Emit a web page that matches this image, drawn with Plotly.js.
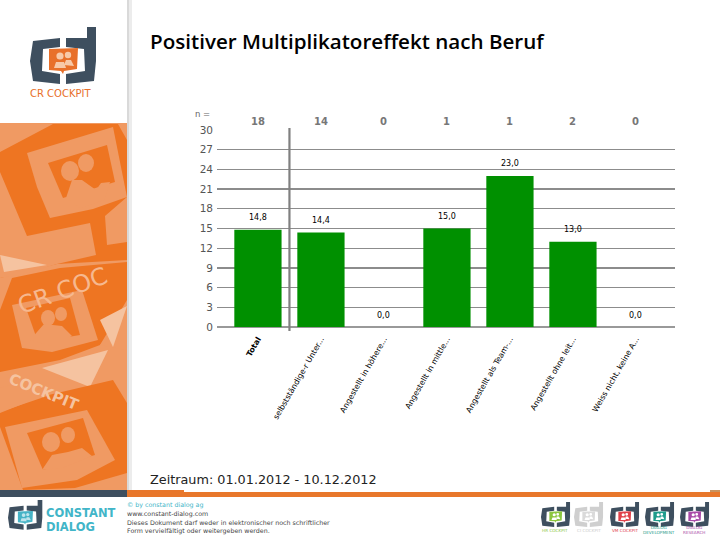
<!DOCTYPE html>
<html>
<head>
<meta charset="utf-8">
<script src="https://cdn.plot.ly/plotly-3.0.1.min.js"></script>
<style>html,body{margin:0;padding:0;background:#fff}#c{width:720px;height:540px}</style>
</head>
<body>
<div id="c"></div>
<script>
const categories = ["<b>Total</b>","selbstständige-r Unter...","Angestellt in höhere...","Angestellt in mittle...","Angestellt als Team-...","Angestellt ohne leit...","Weiss nicht, keine A..."];
const values = [14.8,14.4,0,15,23,13,0];
const valueLabels = ["14,8","14,4","0,0","15,0","23,0","13,0","0,0"];
const counts = [18,14,0,1,1,2,0];
const yTicks = [0,3,6,9,12,15,18,21,24,27,30];

const titleText = "Positiver Multiplikatoreffekt nach Beruf";
const periodText = "Zeitraum: 01.01.2012 - 10.12.2012";

const W = 720, H = 540, ML = 217, MR = 45, MT = 130, MB = 213;
const fx = x => (x - ML) / (W - ML - MR);
const fy = y => 1 - (y - MT) / (H - MT - MB);

const shapes = [];
function poly(pts, color, layer) {
  const d = pts.map((p, i) => (i ? "L" : "M") + fx(p[0]).toFixed(5) + "," + fy(p[1]).toFixed(5)).join(" ") + " Z";
  shapes.push({type:"path", xref:"paper", yref:"paper", path:d, fillcolor:color, line:{width:0}, layer:layer||"below"});
}
function rect(x0,y0,x1,y1,color,layer){ poly([[x0,y0],[x1,y0],[x1,y1],[x0,y1]],color,layer); }
function oval(cx,cy,rx,ry,color){
  shapes.push({type:"circle", xref:"paper", yref:"paper", x0:fx(cx-rx), x1:fx(cx+rx), y0:fy(cy+ry), y1:fy(cy-ry), fillcolor:color, line:{width:0}, layer:"below"});
}
function logo(x,y,s,frame,win,person){
  const P = a => a.map(p => [x+p[0]*s, y+p[1]*s]);
  poly(P([[3,14],[30,11],[30,20],[13,22],[12,44],[30,47],[30,57],[3,54],[0,34]]),frame);
  poly(P([[36,11],[57,11],[57,0],[66,0],[66,34],[64,54],[36,57],[36,47],[55,44],[54,22],[36,20]]),frame);
  poly(P([[19,22],[48,21],[47,42],[34,44],[33,47],[31,44],[19,43]]),win);
  oval(x+30*s,y+29*s,3.6*s,3.6*s,person);
  oval(x+38*s,y+28*s,3.2*s,3.2*s,person);
  poly(P([[24,41],[26,35],[34,35],[36,41]]),person);
  poly(P([[34,38],[36,33],[41,33],[44,39]]),person);
}

const L = "#F09A63", D = "#EE7522", PALE = "#F5C3A0", NAVY = "#3E4F5F";
rect(128,0,132,490,"#ECECEC");
rect(127,0,129,490,"#D9D9D9");
rect(0,123,127,490,L);
poly([[0,152],[53,124],[118,124],[127,140],[127,197],[105,216],[107,245],[127,242],[127,260],[57,264],[0,278]],D);
poly([[0,172],[27,236],[90,223],[96,255],[57,264],[20,275],[0,278]],L);
poly([[27,153],[113,127],[127,197],[93,209],[50,218],[37,187]],L);
poly([[48,163],[107,145],[115,182],[63,198]],D);
oval(70,171,9,10,L); oval(86,163,8,9,L);
poly([[66,198],[72,180],[82,180],[96,190],[101,183],[110,182],[104,200],[80,208]],L);
poly([[0,255],[47,265],[4,272]],PALE);
poly([[0,310],[12,278],[60,268],[127,262],[127,300],[100,345],[60,360],[0,372]],D);
poly([[12,305],[82,290],[98,340],[52,352],[22,348]],L);
poly([[26,308],[70,298],[80,335],[38,342]],D);
oval(48,318,7,8,L); oval(61,314,6,7,L);
poly([[30,340],[44,324],[62,326],[72,336],[52,346]],L);
poly([[127,285],[127,350],[100,345],[127,310]],L);
poly([[100,320],[127,306],[113,347]],PALE);
poly([[42,368],[108,350],[90,387]],PALE);
poly([[0,413],[40,397],[113,380],[127,403],[127,473],[75,488],[23,490],[0,427]],D);
poly([[5,427],[87,410],[115,460],[77,480],[22,488]],L);
poly([[27,433],[83,418],[95,455],[43,470]],D);
oval(51,442,9,10,L); oval(68,435,7,8,L);
poly([[42,470],[52,455],[68,452],[82,448],[92,456],[62,468]],L);
poly([[0,388],[30,380],[50,395],[0,412]],L);

rect(0,490,127,497,NAVY);
rect(127,490,184,497,"#E8772B");
rect(184,492,720,497,"#E8772B");
rect(710,490,720,492,"#C9935F");

logo(30,27,1,NAVY,"#E8702A","#F7C9A8");
logo(8,500,0.52,NAVY,"#46B3C6","#BFE5EC");
const miniLogos = [[541,"#3E4F5F","#8CC63F"],[574,"#CFCFCF","#DADADA"],[610,"#3E4F5F","#E0414A"],[645,"#3E4F5F","#1F9C8C"],[680,"#3E4F5F","#A94AA8"]];
miniLogos.forEach(m => logo(m[0],502,0.44,m[1],m[2],"#FFFFFF"));

shapes.push({type:"line", xref:"x", yref:"paper", x0:0.5, x1:0.5, y0:fy(331), y1:fy(128), line:{color:"#808080",width:2.2}, layer:"above"});
shapes.push({type:"line", xref:"paper", yref:"y", x0:0, x1:1, y0:21, y1:21, line:{color:"#7A7A7A",width:2}, layer:"below"});

function note(x,y,text,size,color,extra){
  return Object.assign({xref:"paper",yref:"paper",x:fx(x),y:fy(y),text:text,showarrow:false,
    xanchor:"left",yanchor:"middle",font:{family:"DejaVu Sans",size:size,color:color}},extra||{});
}
const annotations = [];
annotations.push(note(148,41,titleText,20.6,"#000",{font:{family:"Open Sans",size:20.6,weight:600,color:"#000"}}));
annotations.push(note(148,479,periodText,12.8,"#222"));
annotations.push(note(193,114,"n =",8.5,"#666"));
counts.forEach((c,i)=>annotations.push({xref:"x",yref:"paper",x:i,y:fy(114),text:"<b>"+c+"</b>",showarrow:false,
  font:{family:"DejaVu Sans",size:10,color:"#777"}}));
valueLabels.forEach((t,i)=>annotations.push({xref:"x",yref:"y",x:i,y:values[i],text:t,showarrow:false,yanchor:"middle",yshift:12,
  font:{family:"DejaVu Sans",size:8,color:"#000"}}));
annotations.push(note(28,93,"CR COCKPIT",10,"#E8702A"));
annotations.push(note(62,291,"CR COC",24,"#F6B88F",{textangle:-20,xanchor:"center"}));
annotations.push(note(44,392,"<b>COCKPIT</b>",15,PALE,{textangle:22,xanchor:"center"}));
annotations.push(note(44,513,"<b>CONSTANT</b>",11.5,"#41B5C8"));
annotations.push(note(44,527,"<b>DIALOG</b>",11.5,"#41B5C8"));
annotations.push(note(125,505,"© by constant dialog ag",6.3,"#41B5C8"));
annotations.push(note(125,513.5,"www.constant-dialog.com",6.3,"#444"));
annotations.push(note(125,522,"Dieses Dokument darf weder in elektronischer noch schriftlicher",6.3,"#444"));
annotations.push(note(125,530.5,"Form vervielfältigt oder weitergeben werden.",6.3,"#444"));
const miniCaps = [[555,"HR COCKPIT","#8CC63F"],[589,"CI COCKPIT","#CCCCCC"],[625,"VM COCKPIT","#E0414A"],[659,"DIALOG<br>DEVELOPMENT","#1F9C8C"],[694,"DIALOG<br>RESEARCH","#A94AA8"]];
miniCaps.forEach(m=>annotations.push(note(m[0],530,m[1],4.2,m[2],{xanchor:"center"})));

Plotly.newPlot("c",[{
  type:"bar", x:categories.map((_,i)=>i), y:values, width:0.75,
  marker:{color:"#009000",line:{width:0}}, hoverinfo:"skip", cliponaxis:false
}],{
  width:W,height:H,margin:{l:ML,r:MR,t:MT,b:MB,pad:0},autosize:false,
  paper_bgcolor:"rgba(0,0,0,0)",plot_bgcolor:"rgba(0,0,0,0)",showlegend:false,bargap:0.25,
  xaxis:{range:[-0.65,6.62],tickmode:"array",tickvals:categories.map((_,i)=>i),ticktext:categories,tickangle:-60,
    showgrid:false,zeroline:false,showline:false,ticks:"",automargin:false,ticklabelstandoff:5,
    tickfont:{family:"DejaVu Sans",size:7.8,color:"#000"}},
  yaxis:{range:[0,30],tickmode:"array",tickvals:yTicks,ticktext:yTicks.map(String),
    showgrid:true,gridcolor:"#8C8C8C",gridwidth:1.3,zeroline:true,zerolinecolor:"#999",zerolinewidth:1.5,
    showline:false,ticks:"",automargin:false,ticklabelstandoff:3,
    tickfont:{family:"DejaVu Sans",size:10.5,color:"#555"}},
  shapes:shapes,annotations:annotations
},{staticPlot:true,displayModeBar:false});
</script>
</body>
</html>
